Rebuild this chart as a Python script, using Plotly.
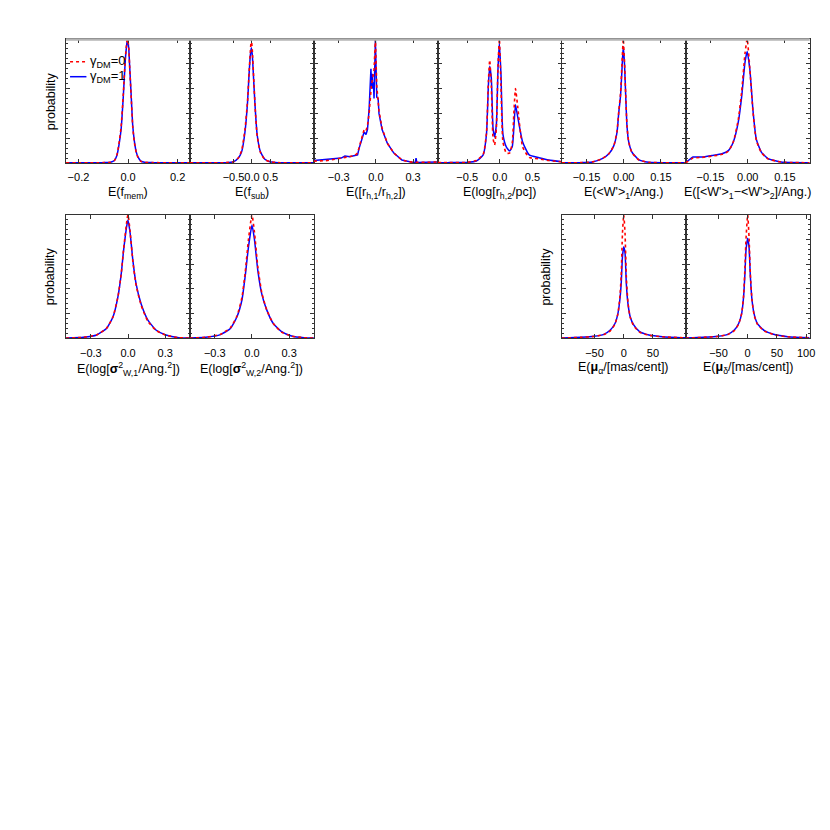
import plotly.graph_objects as go

# ---------------- data ----------------
# Row 1, panel 1: E(f_mem)
FMEM_X = [-0.25, -0.1, -0.07, -0.055, -0.045, -0.037, -0.028, -0.019, -0.011, -0.005, -0.002, 0.003, 0.006, 0.012, 0.019, 0.026, 0.033, 0.04, 0.052, 0.07, 0.1, 0.25]
FMEM_G1 = [0.002, 0.003, 0.006, 0.02, 0.06, 0.14, 0.27, 0.54, 0.83, 0.96, 1.0, 0.92, 0.8, 0.57, 0.30, 0.17, 0.09, 0.05, 0.015, 0.005, 0.003, 0.002]
FMEM_G0 = [0.002, 0.003, 0.006, 0.02, 0.065, 0.15, 0.29, 0.56, 0.85, 0.97, 1.0, 0.93, 0.8, 0.56, 0.29, 0.16, 0.085, 0.045, 0.013, 0.005, 0.003, 0.002]

# Row 1, panel 2: E(f_sub)
FSUB_X = [-1.68, -0.71, -0.5, -0.37, -0.28, -0.19, -0.12, -0.08, -0.044, -0.018, 0.009, 0.044, 0.088, 0.14, 0.23, 0.35, 0.49, 0.71, 1.68]
FSUB_G1 = [0.002, 0.003, 0.01, 0.04, 0.09, 0.25, 0.49, 0.71, 0.87, 0.93, 0.87, 0.68, 0.44, 0.23, 0.09, 0.03, 0.01, 0.003, 0.002]
FSUB_G0 = [0.002, 0.003, 0.01, 0.04, 0.10, 0.27, 0.50, 0.72, 0.90, 1.0, 0.91, 0.70, 0.44, 0.22, 0.085, 0.028, 0.01, 0.003, 0.002]

# Row 1, panel 3: E([r_h,1/r_h,2])
RHR_X = [-0.5, -0.45, -0.39, -0.33, -0.28, -0.25, -0.21, -0.17, -0.148, -0.135, -0.12, -0.108, -0.095, -0.08, -0.068, -0.055, -0.045, -0.04, -0.035, -0.03, -0.025, -0.02, -0.015, -0.004, 0.007, 0.018, 0.025, 0.05, 0.092, 0.145, 0.21, 0.26, 0.3, 0.318, 0.324, 0.33, 0.4, 0.5]
RHR_G1 = [0.02, 0.025, 0.03, 0.035, 0.04, 0.056, 0.05, 0.06, 0.065, 0.12, 0.17, 0.21, 0.25, 0.23, 0.27, 0.43, 0.6, 0.76, 0.61, 0.72, 0.60, 0.65, 0.52, 0.99, 0.53, 0.52, 0.40, 0.27, 0.16, 0.08, 0.024, 0.01, 0.005, 0.005, 0.04, 0.005, 0.005, 0.008]
RHR_G0 = [0.015, 0.015, 0.02, 0.03, 0.04, 0.045, 0.05, 0.06, 0.08, 0.13, 0.19, 0.24, 0.27, 0.26, 0.30, 0.40, 0.52, 0.62, 0.64, 0.66, 0.70, 0.72, 0.75, 1.0, 0.62, 0.50, 0.42, 0.28, 0.16, 0.08, 0.025, 0.01, 0.005, 0.005, 0.005, 0.005, 0.005, 0.008]

# Row 1, panel 4: E(log[r_h,2/pc])
LRH_X = [-0.95, -0.8, -0.51, -0.36, -0.255, -0.205, -0.175, -0.155, -0.13, -0.104, -0.08, -0.053, -0.028, -0.007, 0.018, 0.048, 0.099, 0.149, 0.19, 0.215, 0.24, 0.275, 0.35, 0.45, 0.6, 0.75, 0.95]
LRH_G1 = [0.003, 0.003, 0.005, 0.016, 0.065, 0.23, 0.63, 0.78, 0.68, 0.28, 0.21, 0.31, 0.76, 0.97, 0.71, 0.23, 0.13, 0.097, 0.13, 0.28, 0.47, 0.37, 0.17, 0.065, 0.043, 0.024, 0.01]
LRH_G0 = [0.003, 0.003, 0.005, 0.02, 0.07, 0.24, 0.66, 0.83, 0.62, 0.20, 0.145, 0.28, 0.78, 1.0, 0.62, 0.17, 0.08, 0.08, 0.16, 0.40, 0.60, 0.45, 0.13, 0.045, 0.033, 0.02, 0.01]

# Row 1, panel 5: E(<W'>_1/Ang.)
W1_X = [-0.25, -0.17, -0.127, -0.087, -0.06, -0.04, -0.027, -0.02, -0.013, -0.006, -0.002, 0.003, 0.007, 0.013, 0.02, 0.033, 0.06, 0.1, 0.25]
W1_G1 = [0.002, 0.003, 0.008, 0.035, 0.075, 0.14, 0.25, 0.41, 0.54, 0.8, 0.94, 0.8, 0.59, 0.3, 0.17, 0.088, 0.027, 0.006, 0.002]
W1_G0 = [0.002, 0.003, 0.009, 0.035, 0.075, 0.14, 0.26, 0.42, 0.56, 0.85, 1.0, 0.82, 0.6, 0.3, 0.17, 0.085, 0.026, 0.006, 0.002]

# Row 1, panel 6: E([<W'>_1-<W'>_2]/Ang.)
DW_X = [-0.25, -0.244, -0.22, -0.184, -0.144, -0.104, -0.078, -0.058, -0.038, -0.024, -0.011, -0.002, 0.009, 0.022, 0.035, 0.055, 0.082, 0.135, 0.25]
DW_G1 = [0.005, 0.013, 0.048, 0.048, 0.061, 0.075, 0.1, 0.17, 0.33, 0.54, 0.81, 0.9, 0.75, 0.41, 0.19, 0.088, 0.035, 0.008, 0.002]
DW_G0 = [0.003, 0.01, 0.04, 0.045, 0.055, 0.07, 0.095, 0.17, 0.35, 0.58, 0.88, 1.0, 0.75, 0.40, 0.18, 0.085, 0.033, 0.008, 0.002]

# Row 2, panel 1: E(log[sigma^2_W,1/Ang.^2])
SW1_X = [-0.5, -0.36, -0.254, -0.174, -0.121, -0.081, -0.054, -0.036, -0.007, 0.0, 0.017, 0.039, 0.065, 0.105, 0.159, 0.225, 0.305, 0.41, 0.5]
SW1_G1 = [0.002, 0.008, 0.027, 0.08, 0.175, 0.34, 0.53, 0.71, 0.93, 0.957, 0.85, 0.63, 0.44, 0.28, 0.15, 0.067, 0.027, 0.005, 0.002]
SW1_G0 = [0.002, 0.008, 0.027, 0.08, 0.175, 0.34, 0.53, 0.72, 0.97, 1.0, 0.86, 0.62, 0.43, 0.27, 0.14, 0.065, 0.025, 0.005, 0.002]

# Row 2, panel 2: E(log[sigma^2_W,2/Ang.^2])
SW2_X = [-0.5, -0.374, -0.254, -0.174, -0.121, -0.081, -0.055, -0.028, 0.0, 0.02, 0.047, 0.079, 0.119, 0.172, 0.239, 0.319, 0.42, 0.5]
SW2_G1 = [0.002, 0.008, 0.03, 0.08, 0.175, 0.31, 0.5, 0.74, 0.916, 0.8, 0.55, 0.36, 0.23, 0.12, 0.054, 0.019, 0.005, 0.002]
SW2_G0 = [0.002, 0.008, 0.032, 0.085, 0.18, 0.33, 0.53, 0.80, 1.0, 0.86, 0.58, 0.37, 0.23, 0.12, 0.05, 0.018, 0.005, 0.002]

# Row 2, panel 5: E(mu_alpha/[mas/cent])
MUA_X = [-106, -73, -51, -34, -23, -15, -10, -6.7, -4.4, -2.2, 0, 2.2, 4.4, 7.2, 11, 17, 27, 43, 66, 106]
MUA_G1 = [0.002, 0.008, 0.016, 0.032, 0.067, 0.12, 0.2, 0.31, 0.44, 0.66, 0.74, 0.69, 0.44, 0.28, 0.175, 0.108, 0.054, 0.027, 0.013, 0.004]
MUA_G0 = [0.002, 0.008, 0.015, 0.03, 0.06, 0.115, 0.2, 0.33, 0.5, 0.85, 1.0, 0.85, 0.5, 0.29, 0.17, 0.10, 0.05, 0.025, 0.012, 0.004]

# Row 2, panel 6: E(mu_delta/[mas/cent])
MUD_X = [-106, -75, -51, -34, -22.9, -15.4, -10.3, -6.9, -4.6, -2.9, 0, 2.3, 4.6, 7.4, 11.4, 17, 28.6, 45.7, 68.6, 106]
MUD_G1 = [0.002, 0.008, 0.016, 0.032, 0.067, 0.12, 0.2, 0.34, 0.53, 0.71, 0.81, 0.74, 0.5, 0.31, 0.19, 0.116, 0.062, 0.03, 0.013, 0.004]
MUD_G0 = [0.002, 0.008, 0.015, 0.03, 0.062, 0.115, 0.2, 0.35, 0.58, 0.8, 1.0, 0.82, 0.52, 0.31, 0.18, 0.11, 0.058, 0.028, 0.012, 0.004]

# tick values / labels
TV_FMEM = [-0.2, 0.0, 0.2];   TT_FMEM = ["\u22120.2", "0.0", "0.2"]
TV_HALF = [-0.5, 0.0, 0.5];   TT_HALF = ["\u22120.5", "0.0", "0.5"]
TV_03 = [-0.3, 0.0, 0.3];     TT_03 = ["\u22120.3", "0.0", "0.3"]
TV_015 = [-0.15, 0.0, 0.15];  TT_015 = ["\u22120.15", "0.00", "0.15"]
TV_MU5 = [-50, 0, 50];        TT_MU5 = ["\u221250", "0", "50"]
TV_MU6 = [-50, 0, 50, 100];   TT_MU6 = ["\u221250", "0", "50", "100"]

LEGEND_LABELS = ["\u03b3<sub>DM</sub>=0", "\u03b3<sub>DM</sub>=1"]

# ---------------- layout ----------------
W = H = 830
OFF = 8.0            # page body margin of the html page
X0, PW = 66.5, 124.83
ROWS = [(39.0, 163.0), (214.7, 338.3)]
FONT = "Liberation Sans"
FS = 12.5
TFS = 11


def px(v):
    return (v - OFF) / W


def py(v):
    return 1 - (v - OFF) / H


PANELS = [
    dict(r=0, c=0, x=FMEM_X, g0=FMEM_G0, g1=FMEM_G1, rng=[-0.25, 0.25], tv=TV_FMEM, tt=TT_FMEM, t="E(f<sub>mem</sub>)"),
    dict(r=0, c=1, x=FSUB_X, g0=FSUB_G0, g1=FSUB_G1, rng=[-1.68, 1.68], tv=TV_HALF, tt=TT_HALF, t="E(f<sub>sub</sub>)"),
    dict(r=0, c=2, x=RHR_X, g0=RHR_G0, g1=RHR_G1, rng=[-0.5, 0.5], tv=TV_03, tt=TT_03, t="E([r<sub>h,1</sub>/r<sub>h,2</sub>])", lin=True),
    dict(r=0, c=3, x=LRH_X, g0=LRH_G0, g1=LRH_G1, rng=[-0.95, 0.95], tv=TV_HALF, tt=TT_HALF, t="E(log[r<sub>h,2</sub>/pc])"),
    dict(r=0, c=4, x=W1_X, g0=W1_G0, g1=W1_G1, rng=[-0.25, 0.25], tv=TV_015, tt=TT_015, t="E(&lt;W'&gt;<sub>1</sub>/Ang.)"),
    dict(r=0, c=5, x=DW_X, g0=DW_G0, g1=DW_G1, rng=[-0.25, 0.25], tv=TV_015, tt=TT_015, t="E([&lt;W'&gt;<sub>1</sub>\u2212&lt;W'&gt;<sub>2</sub>]/Ang.)"),
    dict(r=1, c=0, x=SW1_X, g0=SW1_G0, g1=SW1_G1, rng=[-0.5, 0.5], tv=TV_03, tt=TT_03, t="E(log[<b>\u03c3</b><sup>2</sup><sub>W,1</sub>/Ang.<sup>2</sup>])"),
    dict(r=1, c=1, x=SW2_X, g0=SW2_G0, g1=SW2_G1, rng=[-0.5, 0.5], tv=TV_03, tt=TT_03, t="E(log[<b>\u03c3</b><sup>2</sup><sub>W,2</sub>/Ang.<sup>2</sup>])"),
    dict(r=1, c=4, x=MUA_X, g0=MUA_G0, g1=MUA_G1, rng=[-106, 106], tv=TV_MU5, tt=TT_MU5, t="E(<b>\u03bc</b><sub>\u03b1</sub>/[mas/cent])"),
    dict(r=1, c=5, x=MUD_X, g0=MUD_G0, g1=MUD_G1, rng=[-106, 106], tv=TV_MU6, tt=TT_MU6, t="E(<b>\u03bc</b><sub>\u03b4</sub>/[mas/cent])"),
]

fig = go.Figure()
layout = {}
annotations = []
shapes = []

for i, p in enumerate(PANELS, start=1):
    xa, ya = f"x{i}", f"y{i}"
    shape = "linear" if p.get("lin") else "spline"
    fig.add_trace(go.Scatter(x=p["x"], y=p["g1"], xaxis=xa, yaxis=ya, mode="lines",
                             line=dict(color="#0000ff", width=1.5, shape=shape, smoothing=0.5),
                             showlegend=False, hoverinfo="skip"))
    fig.add_trace(go.Scatter(x=p["x"], y=p["g0"], xaxis=xa, yaxis=ya, mode="lines",
                             line=dict(color="#ff0000", width=1.6, dash="dot", shape=shape, smoothing=0.5),
                             showlegend=False, hoverinfo="skip"))
    x0 = X0 + p["c"] * PW
    x1 = x0 + PW
    yt, yb = ROWS[p["r"]]
    layout[f"xaxis{i}"] = dict(
        domain=[px(x0), px(x1)], range=p["rng"], anchor=ya,
        tickmode="array", tickvals=p["tv"], ticktext=p["tt"], tickangle=0,
        ticks="inside", ticklen=4, tickcolor="#333", mirror="ticks",
        showline=True, linecolor="#333", linewidth=1,
        showgrid=False, zeroline=False, ticklabelstandoff=4,
        tickfont=dict(family=FONT, size=TFS, color="#000"))
    layout[f"yaxis{i}"] = dict(
        domain=[py(yb), py(yt)], range=[0, 1.0], anchor=xa,
        showticklabels=False, ticks="inside", ticklen=4, tickcolor="#333", dtick=0.2,
        minor=dict(ticks="inside", ticklen=2, dtick=0.04, tickcolor="#333"),
        mirror="ticks", showline=True, linecolor="#333", linewidth=1,
        showgrid=False, zeroline=False)
    annotations.append(dict(text=p["t"], x=px((x0 + x1) / 2), y=py(yb + 19.5),
                            xref="paper", yref="paper", xanchor="center", yanchor="top",
                            showarrow=False, font=dict(family=FONT, size=FS, color="#000")))

# y-axis titles
for (xp, yp) in [(51.5, 101.0), (51.0, 276.5), (550.0, 276.5)]:
    annotations.append(dict(text="probability", x=px(xp), y=py(yp), xref="paper", yref="paper",
                            textangle=-90, showarrow=False, xanchor="center", yanchor="middle",
                            font=dict(family=FONT, size=FS, color="#000")))

# legend (inside first panel)
LEG = [(61.7, "#ff0000", "dot"), (76.7, "#0000ff", "solid")]
for (yy, col, dash), lab in zip(LEG, LEGEND_LABELS):
    shapes.append(dict(type="line", xref="paper", yref="paper", x0=px(70.5), x1=px(87.0),
                       y0=py(yy), y1=py(yy), line=dict(color=col, width=1.5, dash=dash)))
    annotations.append(dict(text=lab, x=px(89.0), y=py(yy), xref="paper", yref="paper",
                            xanchor="left", yanchor="middle", showarrow=False,
                            font=dict(family=FONT, size=FS + 0.5, color="#000")))

# light grey heavy top border on the first row
shapes.append(dict(type="line", xref="paper", yref="paper", x0=px(X0), x1=px(X0 + 6 * PW),
                   y0=py(39.5), y1=py(39.5), line=dict(color="#b4b4b4", width=2.5), layer="above"))

fig.update_layout(**layout)
fig.update_layout(width=W, height=H, margin=dict(l=0, r=0, t=0, b=0),
                  paper_bgcolor="white", plot_bgcolor="white",
                  annotations=annotations, shapes=shapes, showlegend=False,
                  font=dict(family=FONT, size=FS, color="#000"))

fig.write_html("out.html")
